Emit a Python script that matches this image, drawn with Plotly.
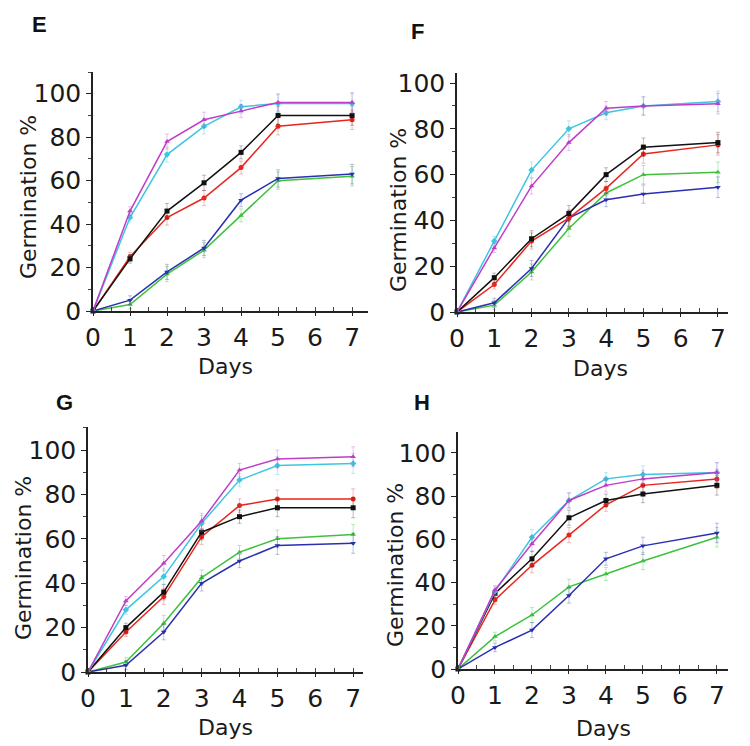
import plotly.graph_objects as go

# the page adds an 8px body margin, so the figure is 8px smaller and all
# reference pixel positions are shifted by that offset
OFF = 8
W, H = 750 - OFF, 746 - OFF

days = [0, 1, 2, 3, 4, 5, 7]
x_ticks = [0, 1, 2, 3, 4, 5, 6, 7]
y_ticks = [0, 20, 40, 60, 80, 100]
panel_labels = ["E", "F", "G", "H"]

# shared (approximate) error-bar half-widths per day
err = [0, 2, 3.5, 3.5, 3, 4, 4.5]

# Panel E
E_black   = [0, 24, 46, 59, 73, 90, 90]
E_red     = [0, 25, 43, 52, 66, 85, 88]
E_cyan    = [0, 43, 72, 85, 94, 95.5, 95.5]
E_magenta = [0, 46, 78, 88, 92, 96, 96]
E_blue    = [0, 5, 18, 29, 51, 61, 63]
E_green   = [0, 3, 17, 28, 44, 60, 62]

# Panel F
F_black   = [0, 15, 32, 43, 60, 72, 74]
F_red     = [0, 12, 31, 41, 54, 69, 73]
F_cyan    = [0, 31, 62, 80, 87, 90, 92]
F_magenta = [0, 28, 55, 74, 89, 90, 91]
F_blue    = [0, 4, 19, 41, 49, 51.5, 54.5]
F_green   = [0, 3, 17.5, 36.5, 52, 60, 61]

# Panel G
G_black   = [0, 20, 36, 63, 70, 74, 74]
G_red     = [0, 18, 34, 61, 75, 78, 78]
G_cyan    = [0, 28, 43, 67, 86.5, 93, 94]
G_magenta = [0, 32, 49, 68, 91, 96, 97]
G_blue    = [0, 3, 18, 40, 50, 57, 58]
G_green   = [0, 4.5, 22, 42.5, 54, 60, 62]

# Panel H
H_black   = [0, 35, 51, 70, 78, 81, 85]
H_red     = [0, 32, 48, 62, 76, 85, 88]
H_cyan    = [0, 36, 61, 78, 88, 90, 91]
H_magenta = [0, 36.6, 58, 78, 85, 88, 91]
H_blue    = [0, 10, 18, 34, 51, 57, 63]
H_green   = [0, 15, 25, 38, 44, 50, 61]

panels = [
    dict(black=E_black, red=E_red, cyan=E_cyan, magenta=E_magenta, blue=E_blue, green=E_green),
    dict(black=F_black, red=F_red, cyan=F_cyan, magenta=F_magenta, blue=F_blue, green=F_green),
    dict(black=G_black, red=G_red, cyan=G_cyan, magenta=G_magenta, blue=G_blue, green=G_green),
    dict(black=H_black, red=H_red, cyan=H_cyan, magenta=H_magenta, blue=H_blue, green=H_green),
]

styles = {
    "green":   dict(color="#3cc23c", err="rgba(60,194,60,0.35)", symbol="triangle-up"),
    "blue":    dict(color="#2a2fb0", err="rgba(42,47,176,0.30)", symbol="triangle-down"),
    "red":     dict(color="#e8261e", err="rgba(232,38,30,0.30)", symbol="circle"),
    "black":   dict(color="#111111", err="rgba(17,17,17,0.28)", symbol="square"),
    "cyan":    dict(color="#3ec6e0", err="rgba(62,198,224,0.35)", symbol="diamond"),
    "magenta": dict(color="#c03cc8", err="rgba(192,60,200,0.30)", symbol="triangle-up"),
}
order = ["green", "blue", "red", "black", "cyan", "magenta"]

# layout geometry in reference pixels: (x_left, x_right, y_bottom, y_top, x_max, y_max)
geom = [
    (93, 368, 311, 72, 7.43, 110.0),
    (457, 728, 312, 73, 7.27, 104.4),
    (88, 363, 672, 427, 7.26, 110.4),
    (458, 728, 669, 432, 7.30, 109.7),
]
label_pos = [(39, 24), (417, 32), (64, 402), (422, 402)]
ytitle_pos = [(28, 197), (398, 210), (23, 558), (395, 565)]
xtitle_pos = [(225, 366), (600, 368), (225, 727), (603, 728)]


def px(x):
    return (x - OFF) / W


def py(y):
    return 1 - (y - OFF) / H


fig = go.Figure()
FONT = "DejaVu Sans"
annotations = []

for i, p in enumerate(panels):
    xa = "x" if i == 0 else f"x{i+1}"
    ya = "y" if i == 0 else f"y{i+1}"
    for key in order:
        s = styles[key]
        fig.add_trace(go.Scatter(
            x=days, y=p[key], mode="lines+markers", xaxis=xa, yaxis=ya,
            line=dict(color=s["color"], width=1.5),
            marker=dict(symbol=s["symbol"], size=5, color=s["color"]),
            error_y=dict(type="data", array=err, visible=True,
                         color=s["err"], thickness=1, width=2),
            showlegend=False, cliponaxis=False,
        ))
    xl, xr, yb, yt, xmax, ymax = geom[i]
    axis_common = dict(showline=True, linecolor="#222", linewidth=1.5,
                       showgrid=False, zeroline=False, automargin=False,
                       tickfont=dict(family=FONT, size=25, color="#1a1a1a"))
    fig.layout[("xaxis" if i == 0 else f"xaxis{i+1}")] = dict(
        domain=[px(xl), px(xr)], anchor=ya, range=[0, xmax],
        tickvals=x_ticks, ticks="outside", ticklen=3, tickcolor="#222",
        minor=dict(ticks="inside", dtick=0.5, ticklen=4, tickcolor="#444"),
        **axis_common)
    fig.layout[("yaxis" if i == 0 else f"yaxis{i+1}")] = dict(
        domain=[py(yb), py(yt)], anchor=xa, range=[0, ymax],
        tickvals=y_ticks, ticks="outside", ticklen=5, tickcolor="#222",
        minor=dict(ticks="outside", dtick=10, ticklen=3, tickcolor="#444"),
        **axis_common)
    lx, ly = label_pos[i]
    annotations.append(dict(text=f"<b>{panel_labels[i]}</b>", x=px(lx), y=py(ly),
                            xref="paper", yref="paper", showarrow=False,
                            xanchor="center", yanchor="middle",
                            font=dict(family="Liberation Sans", size=22, color="#111")))
    tx, ty = ytitle_pos[i]
    annotations.append(dict(text="Germination %", x=px(tx), y=py(ty), textangle=-90,
                            xref="paper", yref="paper", showarrow=False,
                            xanchor="center", yanchor="middle",
                            font=dict(family=FONT, size=22, color="#1a1a1a")))
    dx, dy = xtitle_pos[i]
    annotations.append(dict(text="Days", x=px(dx), y=py(dy),
                            xref="paper", yref="paper", showarrow=False,
                            xanchor="center", yanchor="middle",
                            font=dict(family=FONT, size=22, color="#1a1a1a")))

fig.update_layout(width=W, height=H, margin=dict(l=0, r=0, t=0, b=0),
                  paper_bgcolor="white", plot_bgcolor="white",
                  annotations=annotations)

fig.write_html("out.html")
